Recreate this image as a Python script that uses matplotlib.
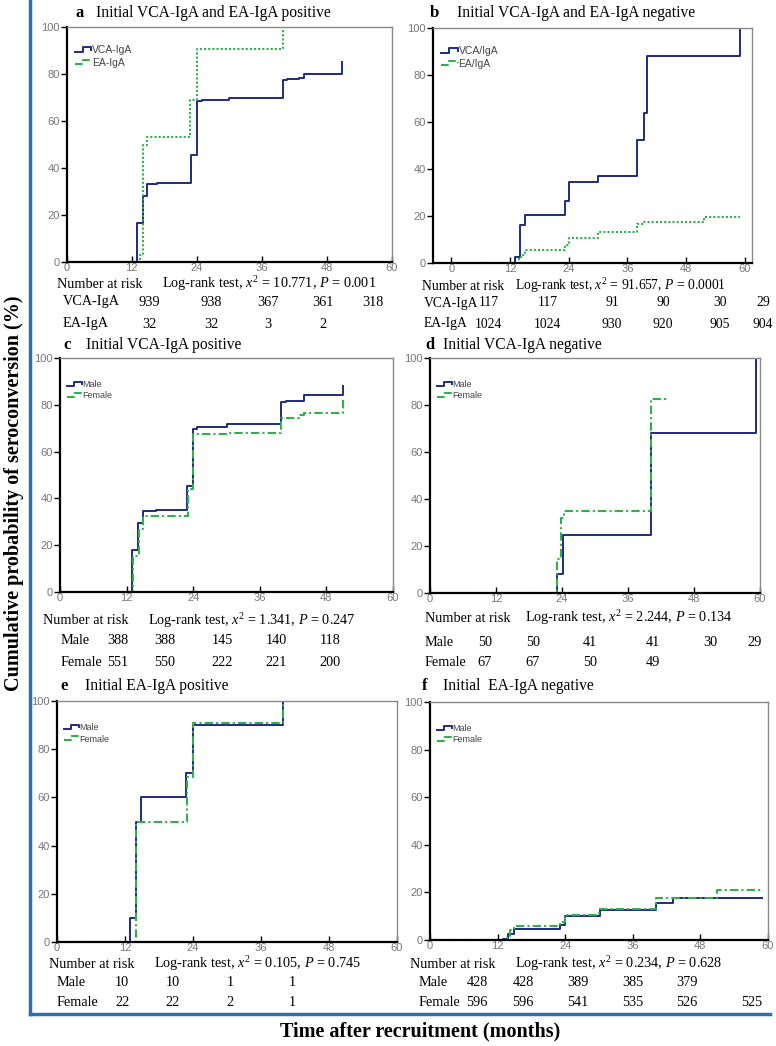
import matplotlib
matplotlib.use("Agg")
import matplotlib.pyplot as plt
from matplotlib.lines import Line2D
from matplotlib.legend_handler import HandlerBase

W, H = 776, 1046
SERIF = "Liberation Serif"
SANS = "Liberation Sans"
BLUE = "#1f2b82"
GREEN = "#30b04a"
FRAME = "#2f6db3"

plt.rcParams["mathtext.fontset"] = "custom"
plt.rcParams["mathtext.rm"] = SERIF
plt.rcParams["mathtext.it"] = SERIF + ":italic"
plt.rcParams["mathtext.bf"] = SERIF + ":bold"

# ---- curve data (months, cumulative %) ----
a_vca_t = [0, 12.9, 14.0, 14.8, 16.6, 23.0, 24.1, 25.0, 30.0, 39.9, 40.7, 42.8, 43.8, 50.8]
a_vca_y = [0, 16.5, 28, 33, 33.5, 45.5, 68.5, 69, 69.7, 77.5, 78, 78.5, 80.2, 85]
a_ea_t = [0, 13.5, 14.0, 14.8, 22.8, 24.0, 39.9]
a_ea_y = [0, 3, 50, 53, 69, 90.5, 100]

b_vca_t = [0, 12.95, 14.0, 15.0, 23.2, 24.1, 30.0, 38.0, 39.5, 40.0, 59.1]
b_vca_y = [0, 2.5, 16, 20.5, 26.5, 34.5, 37, 52.5, 64, 88, 100]
b_ea_t = [0, 13.9, 14.3, 15.0, 23.2, 24.1, 30.0, 38.0, 39.5, 51.6, 59.1]
b_ea_y = [0, 2, 3.5, 5.5, 7.5, 10.5, 13, 16.5, 17.5, 19.5, 19.5]

c_m_t = [0, 13.0, 14.0, 14.9, 17.3, 22.9, 24.0, 24.7, 30.0, 39.9, 40.7, 43.9, 51.0]
c_m_y = [0, 18, 29.5, 34.5, 35, 45.5, 69.5, 70.3, 72, 81, 81.8, 84.2, 88]
c_f_t = [0, 13.1, 14.3, 15.0, 23.0, 24.0, 30.0, 39.9, 43.0, 43.9, 51.0]
c_f_y = [0, 15.5, 27, 32.5, 44, 67.5, 68, 74.5, 75.5, 76.5, 82.5]

d_m_t = [0, 23.0, 24.1, 40.2, 59.2]
d_m_y = [0, 8, 24.5, 68, 100]
d_f_t = [0, 23.0, 23.8, 24.4, 40.2, 43.0]
d_f_y = [0, 14.5, 32, 35, 82.5, 82.5]

e_m_t = [0, 12.9, 13.9, 14.9, 22.8, 24.0, 39.9]
e_m_y = [0, 10, 50, 60, 70, 90, 100]
e_f_t = [0, 14.0, 22.9, 24.0, 39.9]
e_f_y = [0, 50, 68.5, 91, 100]

f_m_t = [0, 13.0, 13.9, 14.9, 23.1, 24.0, 30.1, 40.1, 43.1, 59.0]
f_m_y = [0, 0.5, 2.5, 4.5, 6.5, 10, 12.5, 15.5, 17.5, 17.5]
f_f_t = [0, 13.6, 14.2, 14.9, 23.1, 24.0, 30.0, 40.1, 51.0, 59.0]
f_f_y = [0, 1, 4, 6, 7.5, 10.5, 13, 17.5, 21, 21]

# ---- titles, stats, numbers at risk ----
titles = ["Initial VCA-IgA and EA-IgA positive", "Initial VCA-IgA and EA-IgA negative",
          "Initial VCA-IgA positive", "Initial VCA-IgA negative",
          "Initial EA-IgA positive", "Initial  EA-IgA negative"]
letters = ["a", "b", "c", "d", "e", "f"]
chi2 = ["10.771", "91.657", "1.341", "2.244", "0.105", "0.234"]
pvals = ["0.001", "0.0001", "0.247", "0.134", "0.745", "0.628"]

a_legend = ["VCA-IgA", "EA-IgA"]
b_legend = ["VCA/IgA", "EA/IgA"]
sex_legend = ["Male", "Female"]

a_rows = ["VCA-IgA", "EA-IgA"]
a_risk = [["939", "938", "367", "361", "318"], ["32", "32", "3", "2"]]
b_rows = ["VCA-IgA", "EA-IgA"]
b_risk = [["117", "117", "91", "90", "30", "29"], ["1024", "1024", "930", "920", "905", "904"]]
c_rows = ["Male", "Female"]
c_risk = [["388", "388", "145", "140", "118"], ["551", "550", "222", "221", "200"]]
d_rows = ["Male", "Female"]
d_risk = [["50", "50", "41", "41", "30", "29"], ["67", "67", "50", "49"]]
e_rows = ["Male", "Female"]
e_risk = [["10", "10", "1", "1"], ["22", "22", "2", "1"]]
f_rows = ["Male", "Female"]
f_risk = [["428", "428", "389", "385", "379"], ["596", "596", "541", "535", "526", "525"]]


def fx(px):
    return px / W


def fy(py):
    return 1 - py / H


class StepHandler(HandlerBase):
    # SPSS-style little step icon in the legend
    def create_artists(self, legend, orig_handle, xdescent, ydescent, width, height, fontsize, trans):
        x0, y0 = -xdescent, -ydescent
        xs = [x0, x0 + 0.5 * width, x0 + 0.5 * width, x0 + width, x0 + width]
        ys = [y0 + 0.2 * height, y0 + 0.2 * height, y0 + 0.8 * height, y0 + 0.8 * height, y0 + 0.45 * height]
        ln = Line2D(xs, ys, color=orig_handle.get_color(), linestyle=orig_handle.get_linestyle(),
                    linewidth=orig_handle.get_linewidth())
        ln.set_transform(trans)
        return [ln]


fig = plt.figure(figsize=(W / 100, H / 100), dpi=100)

# panel layout in pixels: left, top, right, bottom
boxes = [(66.7, 27, 391.7, 262), (433, 28, 752, 263),
         (60, 358, 393, 592), (430, 358, 760, 593),
         (57, 701, 397, 942), (430, 702, 768, 940)]
xlims = [(0, 60), (-3.75, 61.5), (0, 60), (0, 60), (0, 60), (0, 60)]
curves = [(a_vca_t, a_vca_y, a_ea_t, a_ea_y), (b_vca_t, b_vca_y, b_ea_t, b_ea_y),
          (c_m_t, c_m_y, c_f_t, c_f_y), (d_m_t, d_m_y, d_f_t, d_f_y),
          (e_m_t, e_m_y, e_f_t, e_f_y), (f_m_t, f_m_y, f_f_t, f_f_y)]
legends = [a_legend, b_legend, sex_legend, sex_legend, sex_legend, sex_legend]
rows = [a_rows, b_rows, c_rows, d_rows, e_rows, f_rows]
risks = [a_risk, b_risk, c_risk, d_risk, e_risk, f_risk]

# text positions in pixels
title_pos = [(76, 96, 13), (430, 457, 13), (63, 86, 345), (425, 443, 345), (60, 85, 686), (422, 443, 686)]
header_pos = [(57, 162, 284), (422, 515, 286), (43, 148, 621), (425, 525, 618), (49, 154, 964), (410, 515, 964)]
table_fs = [10.3, 9.8, 10.3, 10.3, 10.3, 10.3]
row_label_x = [63, 424, 61, 425, 57, 419]
row_y = [(302, 324), (303, 324), (640, 662), (643, 662), (983, 1003), (983, 1003)]
col_x = [[149, 211, 268, 323, 373], [489, 548, 612, 663, 720, 763],
         [118, 165, 222, 276, 330], [485, 533, 590, 653, 710, 755],
         [122, 173, 230, 292], [477, 523, 578, 633, 687, 752]]
legend_y = [0.95, 0.95, 0.93, 0.93, 0.93, 0.93]

for i in range(6):
    l, t, r, b = boxes[i]
    ax = fig.add_axes([fx(l), fy(b), fx(r - l), (b - t) / H])
    t1, y1, t2, y2 = curves[i]
    gls = (0, (1, 1)) if i < 2 else (0, (4, 1.5, 1, 1.5))
    h1, = ax.plot(t1, y1, drawstyle="steps-post", color=BLUE, lw=1.4, label=legends[i][0])
    h2, = ax.plot(t2, y2, drawstyle="steps-post", color=GREEN, lw=1.5, ls=gls, label=legends[i][1])
    ax.set_xlim(*xlims[i])
    ax.set_ylim(0, 100)
    ax.set_xticks([0, 12, 24, 36, 48, 60])
    ax.set_yticks([0, 20, 40, 60, 80, 100])
    for s in ["left", "bottom"]:
        ax.spines[s].set_linewidth(1.6)
        ax.spines[s].set_color("black")
    for s in ["top", "right"]:
        ax.spines[s].set_linewidth(1.0)
        ax.spines[s].set_color("#8a8a8a")
    ax.tick_params(axis="x", direction="in", length=4, width=1, pad=1, labelsize=8, labelcolor="#777777")
    ax.tick_params(axis="y", direction="out", length=4, width=1, pad=1, labelsize=8, labelcolor="#777777")
    for lab in ax.get_xticklabels() + ax.get_yticklabels():
        lab.set_fontfamily(SANS)
    leg = ax.legend(handles=[h1, h2], loc="upper left", bbox_to_anchor=(0.005, legend_y[i]), frameon=False,
                    fontsize=7.5 if i < 2 else 6.5, handlelength=1.6, handletextpad=0.1,
                    labelspacing=0.25, borderaxespad=0.2,
                    handler_map={Line2D: StepHandler()})
    for txt in leg.get_texts():
        txt.set_fontfamily(SANS)
        txt.set_color("#444444")

    lx, tx, ty = title_pos[i]
    fig.text(fx(lx), fy(ty), letters[i], fontfamily=SERIF, fontweight="bold", fontsize=12, va="center")
    fig.text(fx(tx), fy(ty), titles[i], fontfamily=SERIF, fontsize=11.2, va="center")

    fs = table_fs[i]
    nx, lrx, hy = header_pos[i]
    fig.text(fx(nx), fy(hy), "Number at risk", fontfamily=SERIF, fontsize=fs, va="center")
    fig.text(fx(lrx), fy(hy), "Log-rank test, $x^{2}$ = " + chi2[i] + ", $P$ = " + pvals[i],
             fontfamily=SERIF, fontsize=fs, va="center")
    for k in range(2):
        ry = row_y[i][k]
        fig.text(fx(row_label_x[i]), fy(ry), rows[i][k], fontfamily=SERIF, fontsize=fs, va="center")
        for j, val in enumerate(risks[i][k]):
            fig.text(fx(col_x[i][j]), fy(ry), val, fontfamily=SERIF, fontsize=fs, va="center", ha="center")

# blue frame around the panels
fig.add_artist(Line2D([fx(30), fx(30)], [1.0, fy(1014)], transform=fig.transFigure, color=FRAME, lw=2.5))
fig.add_artist(Line2D([fx(30), fx(770)], [fy(1014), fy(1014)], transform=fig.transFigure, color=FRAME, lw=2.5))

fig.text(fx(14), fy(493), "Cumulative probability of seroconversion (%)", rotation=90,
         fontfamily=SERIF, fontweight="bold", fontsize=14.5, ha="center", va="center")
fig.text(fx(420), fy(1031), "Time after recruitment (months)",
         fontfamily=SERIF, fontweight="bold", fontsize=14.5, ha="center", va="center")

fig.savefig("out.png", dpi=100)
